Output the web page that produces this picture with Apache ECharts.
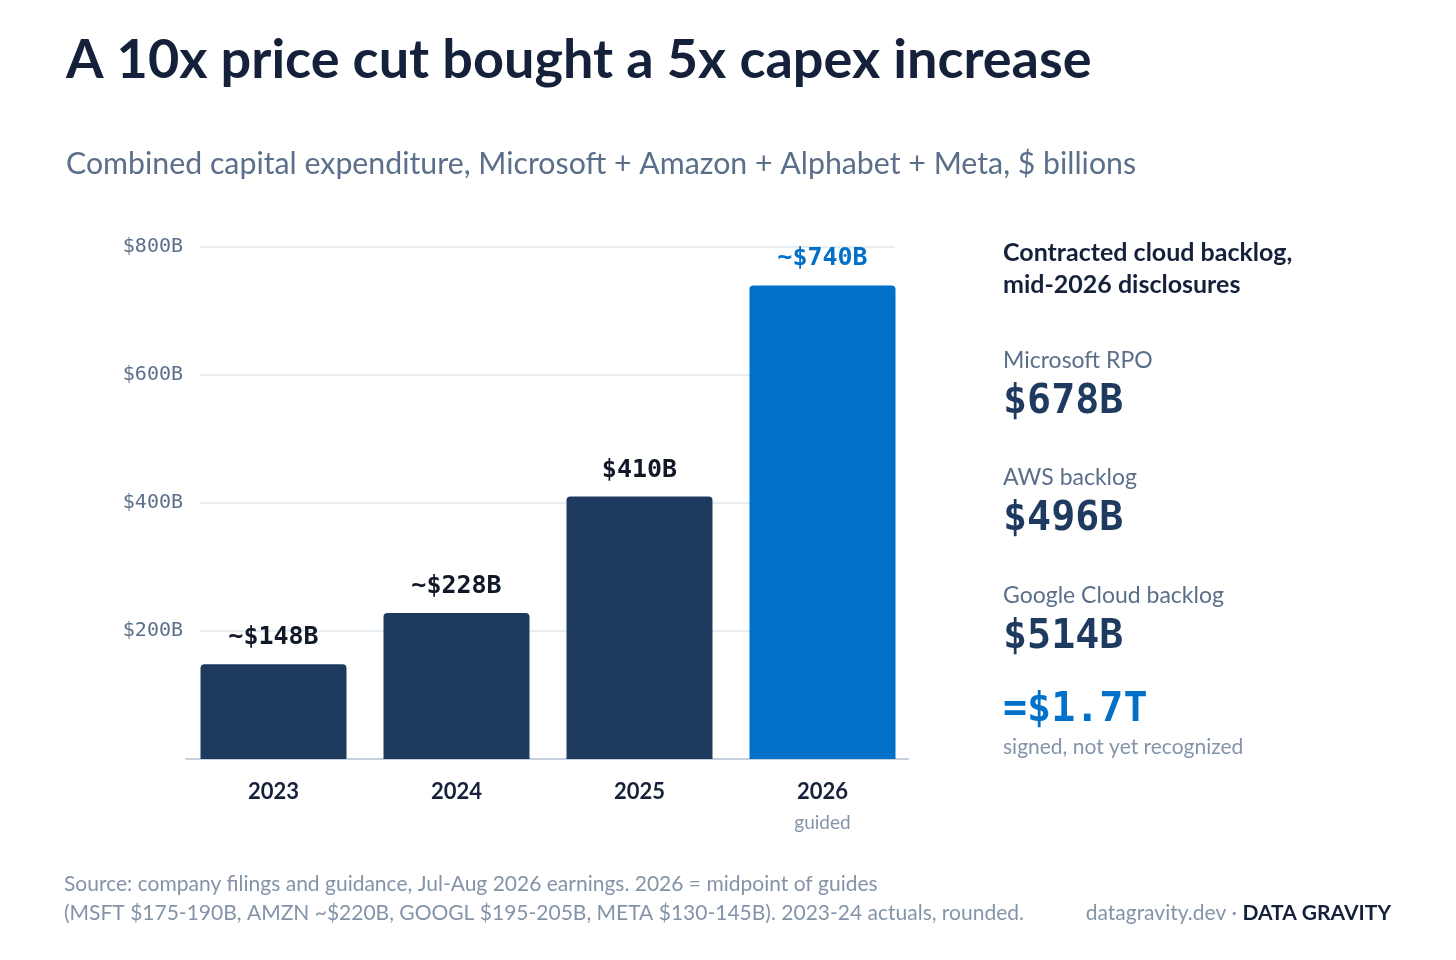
<!DOCTYPE html>
<html>
<head>
<meta charset="utf-8">
<script src="https://cdn.jsdelivr.net/npm/echarts@6/dist/echarts.min.js"></script>
<style>
  html, body { margin: 0; padding: 0; background: #fff; }
  #chart { width: 1456px; height: 960px; }
</style>
</head>
<body>
<div id="chart"></div>
<script>
//Données
const years = ['2023', '2024', '2025', '2026'];
const capex = [148, 228, 410, 740];
const capexLabels = ['~$148B', '~$228B', '$410B', '~$740B'];
const yearNotes = ['', '', '', 'guided'];
const yTicks = [200, 400, 600, 800];

const backlogNames = ['Microsoft RPO', 'AWS backlog', 'Google Cloud backlog'];
const backlogValues = ['$678B', '$496B', '$514B'];
const backlogTotal = '=$1.7T';

//Couleurs
const navy = '#1f3a5f';
const blue = '#0070c9';
const ink = '#15213b';
const slate = '#5b6f8a';
const grey = '#8494a8';
const mono = '"DejaVu Sans Mono", monospace';
const sans = 'Lato, "Noto Sans", sans-serif';

const chart = echarts.init(document.getElementById('chart'));

//Panneau de droite
const panel = [
  { type: 'text', left: 1003, top: 237, style: { text: 'Contracted cloud backlog,\nmid-2026 disclosures', font: `bold 25px ${sans}`, fill: ink, lineHeight: 32 } }
];
const rowTops = [349, 466, 584];
backlogNames.forEach((n, i) => {
  panel.push({ type: 'text', left: 1003, top: rowTops[i], style: { text: n, font: `23px ${sans}`, fill: slate } });
  panel.push({ type: 'text', left: 1003, top: rowTops[i] + 34, style: { text: backlogValues[i], font: `bold 40px ${mono}`, fill: navy } });
});
panel.push({ type: 'text', left: 1003, top: 691, style: { text: backlogTotal, font: `bold 40px ${mono}`, fill: blue } });
panel.push({ type: 'text', left: 1003, top: 737, style: { text: 'signed, not yet recognized', font: `21px ${sans}`, fill: grey } });

//Pied de page
panel.push({ type: 'text', left: 64, top: 870, style: { text: 'Source: company filings and guidance, Jul-Aug 2026 earnings. 2026 = midpoint of guides\n(MSFT $175-190B, AMZN ~$220B, GOOGL $195-205B, META $130-145B). 2023-24 actuals, rounded.', font: `21px ${sans}`, fill: grey, lineHeight: 29 } });
panel.push({ type: 'text', right: 65, top: 903, style: { text: '{a|datagravity.dev · }{b|DATA GRAVITY}', rich: { a: { font: `21px ${sans}`, fill: grey }, b: { font: `bold 21px ${sans}`, fill: ink } } } });

chart.setOption({
  backgroundColor: '#fff',
  animation: false,
  title: [
    { text: 'A 10x price cut bought a 5x capex increase', left: 61, top: 29, textStyle: { fontFamily: sans, fontWeight: 'bold', fontSize: 54, color: ink } },
    { text: 'Combined capital expenditure, Microsoft + Amazon + Alphabet + Meta, $ billions', left: 61, top: 144, textStyle: { fontFamily: sans, fontWeight: 'normal', fontSize: 30.3, color: slate } }
  ],
  grid: [
    { left: 182, right: 542, top: 247, bottom: 201 },  // barres
    { left: 200, right: 561, top: 247, bottom: 201 },  // lignes de grille
    { left: 186, right: 548, top: 247, bottom: 201 }   // ligne de base
  ],
  xAxis: [
    {
      type: 'category',
      gridIndex: 0,
      data: years,
      axisLine: { show: false },
      axisTick: { show: false },
      axisLabel: {
        margin: 20,
        formatter: (v, i) => yearNotes[i] ? `{y|${v}}\n{g|${yearNotes[i]}}` : `{y|${v}}`,
        rich: {
          y: { fontFamily: sans, fontWeight: 'bold', fontSize: 22, color: ink, lineHeight: 26 },
          g: { fontFamily: sans, fontSize: 19, color: grey, lineHeight: 35 }
        }
      }
    },
    { type: 'category', gridIndex: 1, data: years, show: false },
    {
      type: 'category',
      gridIndex: 2,
      data: years,
      axisLine: { lineStyle: { color: '#c8d0dc', width: 2 } },
      axisTick: { show: false },
      axisLabel: { show: false }
    }
  ],
  yAxis: [
    { type: 'value', gridIndex: 0, min: 0, max: 800, interval: 200, show: false },
    {
      type: 'value',
      gridIndex: 1,
      min: 0,
      max: 800,
      interval: 200,
      axisLine: { show: false },
      axisTick: { show: false },
      splitLine: { lineStyle: { color: '#e8edf2', width: 2 } },
      axisLabel: {
        margin: 17,
        fontFamily: mono,
        fontSize: 20,
        color: slate,
        lineHeight: 24,
        padding: [8, 0, 0, 0],
        formatter: v => yTicks.includes(v) ? `$${v}B` : ''
      }
    },
    { type: 'value', gridIndex: 2, min: 0, max: 800, show: false }
  ],
  series: [{
    type: 'bar',
    xAxisIndex: 0,
    yAxisIndex: 0,
    barWidth: 146,
    z: 3,
    data: capex.map((v, i) => ({
      value: v,
      itemStyle: { color: i === capex.length - 1 ? blue : navy, borderRadius: [4, 4, 0, 0] },
      label: { color: i === capex.length - 1 ? blue : '#111827' }
    })),
    label: {
      show: true,
      position: 'top',
      distance: 14,
      fontFamily: mono,
      fontWeight: 'bold',
      fontSize: 25,
      formatter: p => capexLabels[p.dataIndex]
    }
  }],
  graphic: panel
});

window.addEventListener('resize', () => chart.resize());
</script>
</body>
</html>
